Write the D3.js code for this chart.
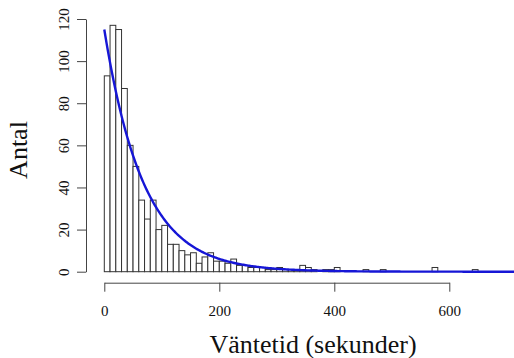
<!DOCTYPE html>
<html><head><meta charset="utf-8">
<script src="https://cdn.jsdelivr.net/npm/d3@7"></script>
<style>body{margin:0;background:#fff}svg{display:block}</style>
</head><body><svg id="c" width="514" height="358"></svg>
<script>
// Histogram data: bin width 10 s, starting at 0
const binWidth = 10;
const counts = [93,117,115,87,60,50,34,25,34,20,22,13,13,10,8,9,4,7,9,5,
  5,4,6,3,3,2,2,2,1,1,2,1,1,1,3,2,1,0,1,1,2,0,0,0,0,1,0,0,1,0,
  0,0,0,0,0,0,0,2,0,0,0,0,0,0,1];
const xTicks = [0,200,400,600];
const yTicks = [0,20,40,60,80,100,120];
const xTitle = "Väntetid (sekunder)";
const yTitle = "Antal";
// Fitted exponential curve parameters
const fitAmplitude = 115;
const fitMean = 68;
const curveEnd = 730;

const svg = d3.select("#c");
const x = d3.scaleLinear().domain([0,600]).range([104.3,449.3]);
const y = d3.scaleLinear().domain([0,120]).range([271.7,19]);
const font = "'Liberation Serif','Times New Roman',serif";

// bars
svg.append("g").selectAll("rect").data(counts).join("rect")
  .attr("x", (d,i)=>x(i*binWidth))
  .attr("width", (d,i)=>x((i+1)*binWidth)-x(i*binWidth))
  .attr("y", d=>y(d))
  .attr("height", d=>y(0)-y(d))
  .attr("fill","#fff").attr("stroke","#333").attr("stroke-width",1);

// curve
const pts = d3.range(0, curveEnd+1, 2).map(v=>[v, fitAmplitude*Math.exp(-v/fitMean)]);
svg.append("path").datum(pts)
  .attr("d", d3.line().x(d=>x(d[0])).y(d=>y(d[1])))
  .attr("fill","none").attr("stroke","#1616d6").attr("stroke-width",2.4);

// x axis
const gx = svg.append("g").attr("transform","translate(0,282.7)")
  .call(d3.axisBottom(x).tickValues(xTicks).tickSize(9).tickSizeOuter(0).tickPadding(14));
gx.selectAll("text").attr("font-family",font).attr("font-size",15).attr("fill","#111");
gx.selectAll("line,path").attr("stroke","#444");

// y axis
const gy = svg.append("g").attr("transform","translate(86,0)")
  .call(d3.axisLeft(y).tickValues(yTicks).tickSize(9).tickSizeOuter(0));
gy.selectAll("text").attr("font-family",font).attr("font-size",15).attr("fill","#111")
  .attr("x",null).attr("dy",null).attr("text-anchor","middle")
  .attr("transform","translate(-17,0) rotate(-90)");
gy.selectAll("line,path").attr("stroke","#444");

// titles
svg.append("text").attr("x",313).attr("y",353).attr("text-anchor","middle")
  .attr("font-family",font).attr("font-size",26).attr("fill","#111").text(xTitle);
svg.append("text").attr("transform","translate(27,150) rotate(-90)").attr("text-anchor","middle")
  .attr("font-family",font).attr("font-size",26).attr("fill","#111").text(yTitle);
</script></body></html>
